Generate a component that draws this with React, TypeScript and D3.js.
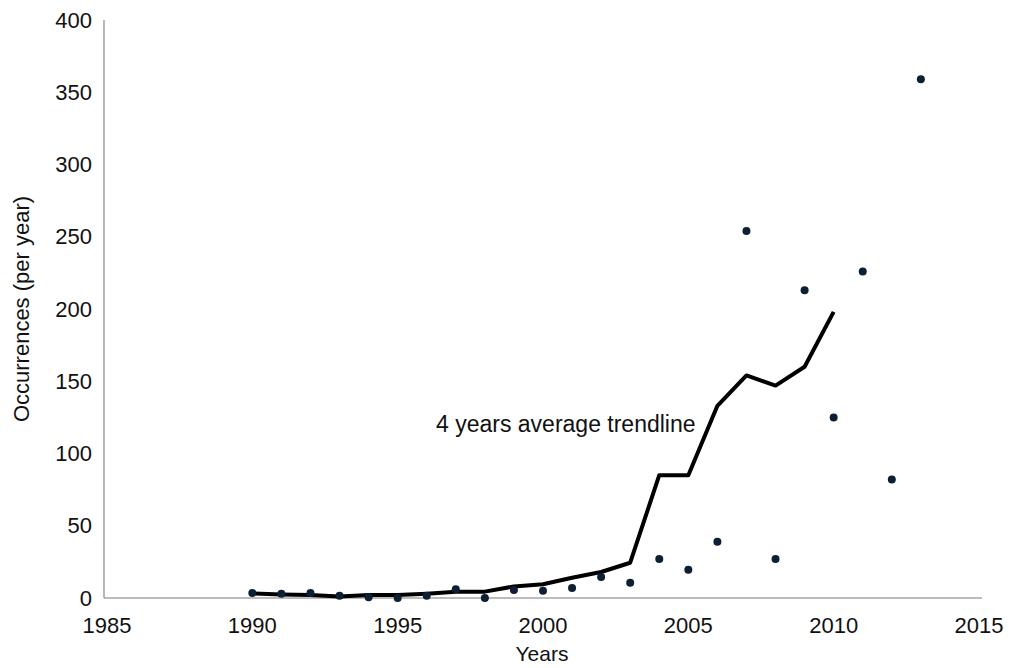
import * as d3 from "d3";

const years = [1990, 1991, 1992, 1993, 1994, 1995, 1996, 1997, 1998, 1999, 2000, 2001, 2002, 2003, 2004, 2005, 2006, 2007, 2008, 2009, 2010, 2011, 2012, 2013];
const occurrences = [3.5, 3, 3.5, 1.5, 0.5, 0, 1.5, 6, 0, 5.5, 5, 7, 14.5, 10.5, 27, 19.5, 39, 254, 27, 213, 125, 226, 82, 359];

const trendYears = [1990, 1991, 1992, 1993, 1994, 1995, 1996, 1997, 1998, 1999, 2000, 2001, 2002, 2003, 2004, 2005, 2006, 2007, 2008, 2009, 2010];
const trendValues = [3.2, 2.5, 2, 1, 2, 2, 3, 4.4, 4.4, 8, 9.5, 14, 18, 24.4, 85, 85, 133, 154, 147, 160, 198];

const xTicks = [1985, 1990, 1995, 2000, 2005, 2010, 2015];
const yTicks = [0, 50, 100, 150, 200, 250, 300, 350, 400];

const W = 1009;
const H = 668;
const FONT = "'Liberation Sans', Arial, sans-serif";

export default function App() {
  const x = d3.scaleLinear().domain([1985, 2015]).range([107, 979]);
  const y = d3.scaleLinear().domain([0, 400]).range([598, 20]);

  const line = d3
    .line<number>()
    .x((_, i) => x(trendYears[i]))
    .y((d) => y(d));

  return (
    <svg
      width={W}
      height={H}
      style={{ position: "absolute", left: 0, top: 0, background: "#fff" }}
      fontFamily={FONT}
    >
      {/* axes */}
      <line x1={104} x2={104} y1={y(400)} y2={y(0)} stroke="#a6a6a6" strokeWidth={1.6} />
      <line x1={104} x2={982} y1={y(0)} y2={y(0)} stroke="#a6a6a6" strokeWidth={1.6} />

      {yTicks.map((t) => (
        <text key={t} x={92} y={y(t)} dy="0.35em" textAnchor="end" fontSize={22} fill="#111">
          {t}
        </text>
      ))}
      {xTicks.map((t) => (
        <text key={t} x={x(t)} y={633} textAnchor="middle" fontSize={22} fill="#111">
          {t}
        </text>
      ))}

      <text x={542} y={661} textAnchor="middle" fontSize={21} fill="#111">
        Years
      </text>
      <text
        transform={`translate(29,${y(200)}) rotate(-90)`}
        textAnchor="middle"
        fontSize={22}
        fill="#111"
      >
        Occurrences (per year)
      </text>

      {/* trendline */}
      <path d={line(trendValues) ?? ""} fill="none" stroke="#000" strokeWidth={4} strokeLinejoin="round" />

      {/* yearly points */}
      {years.map((yr, i) => (
        <circle key={yr} cx={x(yr)} cy={y(occurrences[i])} r={4} fill="#0d1f33" />
      ))}

      <text x={436} y={432} fontSize={23} fill="#111">
        4 years average trendline
      </text>
    </svg>
  );
}
